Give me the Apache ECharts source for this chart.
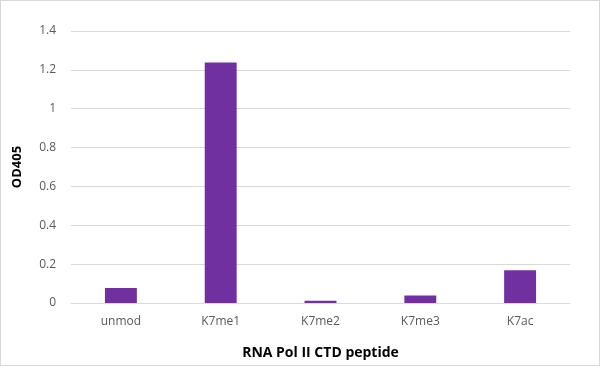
<!DOCTYPE html>
<html><head><meta charset="utf-8">
<script src="https://cdn.jsdelivr.net/npm/echarts@6/dist/echarts.min.js"></script>
<style>html,body{margin:0;padding:0;background:#fff}#c{width:598px;height:364px;border:1px solid #d9d9d9}</style>
</head><body><div id="c"></div>
<script>
const categories = ['unmod','K7me1','K7me2','K7me3','K7ac'];
const values = [0.077, 1.238, 0.012, 0.038, 0.168];
const yTicks = [0, 0.2, 0.4, 0.6, 0.8, 1, 1.2, 1.4];
const chart = echarts.init(document.getElementById('c'));
const font = '"Open Sans", sans-serif';
chart.setOption({
  animation:false,
  grid:{left:70,right:29,top:30,bottom:62,outerBoundsMode:'none'},
  xAxis:{type:'category',data:categories,
    name:'RNA Pol II CTD peptide',nameLocation:'middle',nameGap:43,
    nameTextStyle:{fontFamily:font,fontWeight:'bold',fontSize:14,color:'#000'},
    axisLine:{lineStyle:{color:'#d9d9d9'}},axisTick:{show:false},
    axisLabel:{fontFamily:font,fontSize:12,color:'#595959',margin:13}},
  yAxis:{type:'value',min:0,max:1.4,interval:0.2,
    name:'OD405',nameLocation:'middle',nameGap:47,
    nameTextStyle:{fontFamily:font,fontWeight:'bold',fontSize:13,color:'#000'},
    axisLine:{show:false},axisTick:{show:false},
    splitLine:{lineStyle:{color:'#d9d9d9'}},
    axisLabel:{fontFamily:font,fontSize:12,color:'#595959',margin:15,
      formatter:v=>{const t=yTicks.find(x=>Math.abs(x-v)<1e-9);return t===undefined?'':String(t);}}},
  series:[{type:'bar',data:values,barWidth:'32%',itemStyle:{color:'#7030A0'}}]
});
</script></body></html>
